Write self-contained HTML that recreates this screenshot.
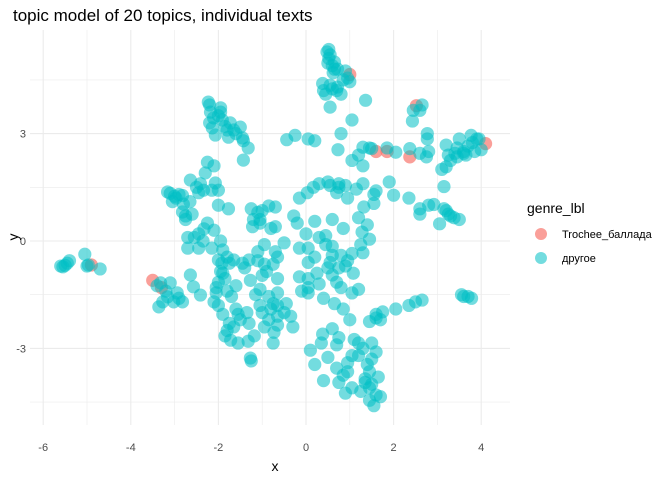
<!DOCTYPE html>
<html><head><meta charset="utf-8"><style>
body{margin:0;background:#fff;}
svg{display:block;font-family:"Liberation Sans","Noto Sans CJK SC",sans-serif;}
</style></head><body>
<svg id="chart" width="672" height="480">
<text x="13" y="21" font-size="17" fill="#000">topic model of 20 topics, individual texts</text>
<g id="grid"></g>
<g id="pts"></g>
<g id="axes"></g>
<text x="275" y="471" font-size="14" text-anchor="middle">x</text>
<text x="18" y="237" font-size="14" text-anchor="middle" transform="rotate(-90 18 237)">y</text>
<g>
<text x="527" y="213" font-size="14">genre_lbl</text>
<g><circle cx="541" cy="234" r="6" fill="#F8766D" fill-opacity="0.7"/><text x="562" y="238" font-size="11">Trochee_баллада</text></g>
<g><circle cx="541" cy="258" r="6" fill="#00BFC4" fill-opacity="0.55"/><text x="562" y="262" font-size="11">другое</text></g>
</g>
</svg>
<script>
const xTicks=[-6,-4,-2,0,2,4];
const yTicks=[-3,0,3];
const xMinor=[-5,-3,-1,1,3];
const yMinor=[-4.5,-1.5,1.5,4.5];
const otherX=[-5.55,-5.5,-5.4,-5.05,-4.97,-4.7,-3.32,-3.1,-2.94,-3.36,-3.27,-2.82,-2.64,-2.57,-2.41,-3.02,-3.16,
-2.23,-2.2,-1.95,-2.11,-1.91,-1.73,-1.5,-2.14,-2.07,-1.77,-1.45,-1.43,-1.32,-1.43,-1.8,-1.65,-1.95,
-2.25,-2.1,-2.3,-2.64,-2.41,-2.34,-2.15,-2,-2.07,-3.16,-3.1,-2.97,-2.82,-3.05,-2.8,-2.65,-2.82,-2.75,-2.75,-2,-1.77,-2.45,
-2.25,-2.33,-2.45,-2.7,-2.55,-2.7,-2.45,-2.35,-2.15,
-1.95,-1.9,-2,-1.92,-1.75,-1.65,-1.45,-1.3,-1.95,-2,-1.85,-2.05,-1.7,-1.8,-2.1,-2,-1.9,-1.6,-1.55,-1.5,-1.3,-1.75,-1.8,-1.72,-1.55,-1.32,-1.18,-1.27,-1.25,-1.27,-1,-1.05,-0.85,-0.75,-1.05,-1,-0.85,-0.75,-0.73,-0.95,-0.75,-1.1,-0.95,-0.7,
-1.25,-1.1,-1.05,-1.2,-1.22,-1,-0.85,-0.8,-1.05,
0.48,0.52,0.52,0.5,0.6,0.65,0.72,0.62,0.38,0.4,0.55,0.72,0.7,0.95,0.85,0.55,1.05,1.36,0.8,0.73,
-0.44,-0.25,0.05,0.2,2.45,2.6,2.65,2.43,
1.3,1.5,1.85,2.05,2.37,2.77,2.77,2.8,2.75,1.05,1.2,1.3,1.45,
3.2,3.5,3.77,3.95,4,3.85,3.6,3.45,3.25,3.2,3.15,3.4,3.7,
1.9,2,2.35,1.55,1.55,2.6,2.6,2.92,2.8,3.15,3.25,3.38,3.5,3.05,3.2,3.3,
3.55,3.6,3.7,3.78,1.45,1.6,1.75,2.05,2.35,2.5,2.65,
0.38,0.35,0.6,0.75,0.7,1.2,1.5,1.6,1.05,1.2,0.5,0.7,0.95,1.45,1.65,0.75,1.05,1.25,1.45,1.6,1.45,1.55,1.7,1.35,0.95,0.85,
0.17,0.3,0.5,0.75,0.9,0.7,0.95,0.03,-0.15,-0.7,-0.28,0.2,0.6,0.85,-0.7,1.32,1.2,1.28,1.45,1.25,1.3,1.05,0.95,0.8,0.6,0.45,0.3,0,-0.15,0.05,-0.5,-0.65,0.05,0.5,0.75,1.08,0.6,0.7,0.8,0.3,0.05,-0.15,0.05,0.05,1.05,1.2,-0.65,-0.65,-0.65,-0.65,-0.35,-0.65,
-0.8,-0.5,-0.3,-0.45,-0.95,
-5.6,-5.45,-5.0,-3.2,-3.4,-2.9,-2.18,-2.0,-1.85,-1.6,-2.2,-2.5,-2.9,-3.0,-2.6,-2.1,-1.8,-1.9,-2.05,-1.6,-1.4,-1.65,-1.85,-1.1,-0.9,-1.15,-1.35,
0.55,0.6,0.45,0.8,0.65,0.9,1.0,1.1,1.3,1.5,1.4,1.35,1.5,0.9,0.4,0.2,0.1,0.4,0.65,0.85,1.0,-0.1,0.25,0.55,0.9,
1.6,1.7,2.6,3.6,3.8,3.9,3.3,3.1,3.45,3.65,0.55,0.75,1.15,1.3,1.6,1.4,0.45,0.6,0.2,-0.2];
const otherY=[-0.72,-0.68,-0.55,-0.37,-0.67,-0.78,-1.17,-1.17,-1.45,-1.84,-1.7,-1.7,-0.95,-1.28,-1.51,-1.7,-1.56,
3.88,3.8,3.72,3.44,3.38,3.3,3.18,3.16,2.96,2.9,2.88,2.8,2.6,2.26,3.1,3.1,3.6,
2.2,2.1,1.9,1.7,1.6,1.42,1.42,1.42,1.62,1.37,1.33,1.2,1.27,1.1,1.03,1.1,0.81,0.6,0.7,1,0.9,1.35,
0.5,0.34,0.2,0.1,0.1,-0.2,-0.2,0,-0.2,
0,-0.25,-0.53,-0.62,-0.62,-0.53,-0.62,-0.53,-0.85,-1.15,-1.05,-1.45,-1.55,-1.4,-1.7,-1.8,-2.05,-1.9,-2.05,-2.2,-2.3,-2.3,-2.5,-2.77,-2.85,-2.8,-2.65,-3.27,-3.35,-1.1,-0.96,-1.35,-1.55,-1.75,-1.8,-2,-2.2,-2.85,-2.55,-0.65,-0.65,-0.3,-0.1,-0.3,
0.9,0.8,0.6,0.6,0.4,0.85,0.98,0.35,0.5,
5.28,5.35,5.1,4.97,4.9,5,4.8,4.7,4.4,4.2,4.35,4.3,4.2,4.55,4.5,3.74,3.38,3.93,3,2.55,
2.83,2.95,2.85,2.8,3.65,3.65,3.8,3.35,
2.62,2.58,2.6,2.48,2.58,3,2.85,2.5,2.35,2.25,2.4,2.1,2.6,
2.68,2.85,2.95,2.85,2.55,2.5,2.45,2.35,2.4,2.07,1.52,2.45,2.65,
1.65,1.28,1.2,1.3,1.05,0.9,0.75,1.02,1,0.9,0.75,0.65,0.6,0.48,0.85,0.7,
-1.5,-1.55,-1.55,-1.6,-2.25,-2.05,-1.98,-1.9,-1.8,-1.7,-1.65,
-2.6,-2.85,-2.45,-2.7,-2.9,-2.85,-2.85,-3.1,-3.2,-3.2,-3.25,-3.55,-3.65,-3.65,-3.8,-3.95,-4.1,-4.2,-4.1,-4.3,-4.45,-4.6,-4.35,-3.95,-3.4,-3.75,
1.5,1.6,1.65,1.6,1.55,1.35,1.2,1.35,1.2,0.95,0.7,0.55,0.6,0.35,0.4,0.95,0.65,0.25,0.05,-0.1,-0.33,-0.35,-0.55,-0.4,-0.4,-0.1,0.1,0.2,-0.2,-0.2,-0.05,-0.45,-0.6,-0.75,-0.75,-0.9,-0.95,-1.15,-1.3,-1.2,-1.05,-1,-1.45,-1.3,-1.45,-1.35,-1.05,-1.45,-1.8,-2.35,-2.1,-2.1,
-1.9,-2,-2.4,-1.75,-2.4,
-0.7,-0.62,-0.7,-1.4,-1.25,-1.6,3.6,3.5,3.2,3.0,3.3,1.5,1.3,1.25,0.75,0.3,-0.45,-0.9,-1.3,-1.25,-0.75,-2.4,-2.65,-0.55,-0.85,-1.5,-2.0,
5.2,4.25,4.1,4.1,4.8,4.75,4.45,-2.75,-3.0,-3.3,-3.45,-3.85,-4.0,-4.25,-3.9,-3.45,-3.05,-1.6,-1.75,-1.9,-2.2,-1.4,-0.9,-0.6,-0.7,
-2.15,-2.2,2.45,2.5,2.75,2.85,2.25,2.0,2.6,2.4,1.55,1.5,1.45,1.6,1.4,0.45,0.15,-0.15,-0.45,0.5];
const trocheeX=[-4.9,-3.5,-3.3,1.0,2.52,1.6,2.37,4.1,1.85];
const trocheeY=[-0.67,-1.1,-1.3,4.65,3.78,2.5,2.35,2.72,2.5];
const NS='http://www.w3.org/2000/svg';
const L=30,R=510,T=30,B=425;
function sx(v){return 306+v*43.8;}
function sy(v){return 241-v*35.8;}
const grid=document.getElementById('grid'),axes=document.getElementById('axes'),pts=document.getElementById('pts');
function line(x1,y1,x2,y2,w,name){
  const l=document.createElementNS(NS,'line');
  l.setAttribute('x1',x1);l.setAttribute('y1',y1);l.setAttribute('x2',x2);l.setAttribute('y2',y2);
  l.setAttribute('stroke','#ebebeb');l.setAttribute('stroke-width',w);
  
  
  grid.appendChild(l);
}
xMinor.forEach(v=>line(sx(v),T,sx(v),B,0.6,'x-minor-gridline'));
yMinor.forEach(v=>line(L,sy(v),R,sy(v),0.6,'y-minor-gridline'));
xTicks.forEach(v=>line(sx(v),T,sx(v),B,1.1,'x-major-gridline'));
yTicks.forEach(v=>line(L,sy(v),R,sy(v),1.1,'y-major-gridline'));
function txt(x,y,s,anchor,name){
  const t=document.createElementNS(NS,'text');
  t.setAttribute('x',x);t.setAttribute('y',y);t.setAttribute('font-size','11');t.setAttribute('fill','#4d4d4d');
  t.setAttribute('text-anchor',anchor);t.textContent=s;
  
  
  axes.appendChild(t);
}
xTicks.forEach(v=>txt(sx(v),451,String(v),'middle','x-tick-label'));
yTicks.forEach(v=>txt(26,sy(v)+4,String(v),'end','y-tick-label'));
function dot(x,y,col,op,name){
  const c=document.createElementNS(NS,'circle');
  c.setAttribute('cx',sx(x));c.setAttribute('cy',sy(y));c.setAttribute('r',6.6);
  c.setAttribute('fill',col);c.setAttribute('fill-opacity',op);
  
  
  pts.appendChild(c);
}
for(let i=0;i<trocheeX.length;i++) dot(trocheeX[i],trocheeY[i],'#F8766D',0.7,'point-trochee');
for(let i=0;i<otherX.length;i++) dot(otherX[i],otherY[i],'#00BFC4',0.55,'point-other');
</script>
</body></html>
